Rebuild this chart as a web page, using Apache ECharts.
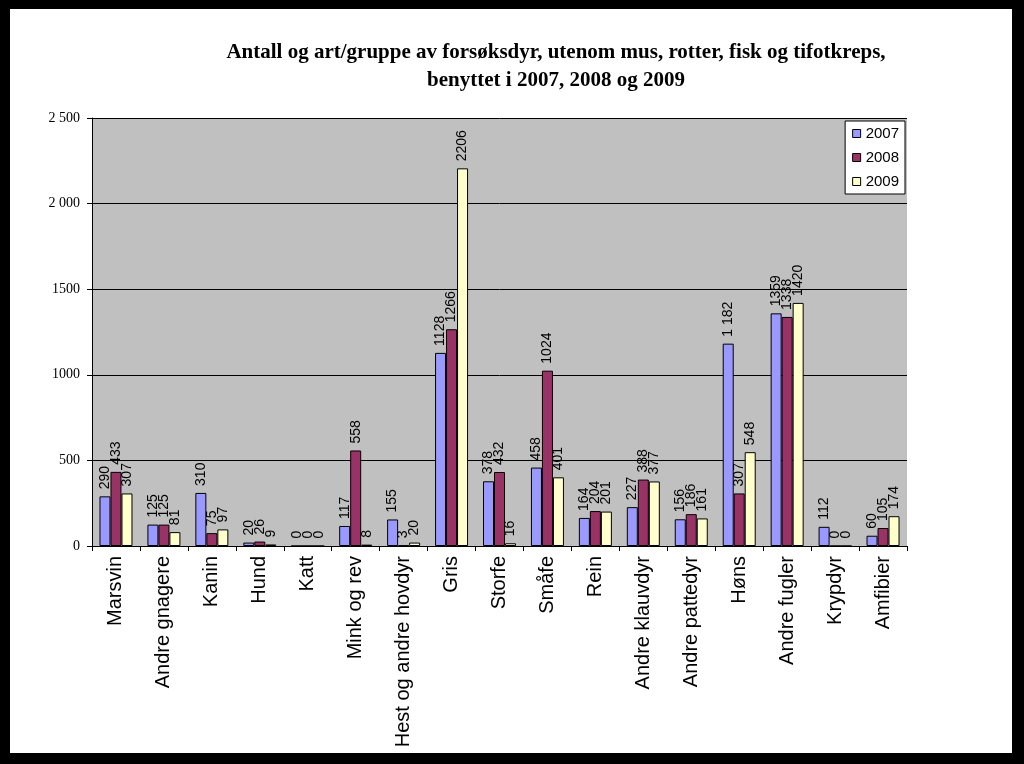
<!DOCTYPE html>
<html>
<head>
<meta charset="utf-8">
<script src="https://cdn.jsdelivr.net/npm/echarts@6/dist/echarts.min.js"></script>
<style>
html,body{margin:0;padding:0;background:#000;}
#frame{position:absolute;left:10px;top:9px;width:1002px;height:744px;background:#fff;}
#chart{position:absolute;left:0;top:0;width:1024px;height:764px;}
</style>
</head>
<body>
<div id="frame"></div>
<div id="chart"></div>
<script>
const categories = ['Marsvin','Andre gnagere','Kanin','Hund','Katt','Mink og rev','Hest og andre hovdyr','Gris','Storfe','Småfe','Rein','Andre klauvdyr','Andre pattedyr','Høns','Andre fugler','Krypdyr','Amfibier'];
const s2007 = [290,125,310,20,0,117,155,1128,378,458,164,227,156,1182,1359,112,60];
const s2008 = [433,125,75,26,0,558,3,1266,432,1024,204,388,186,307,1338,0,105];
const s2009 = [307,81,97,9,0,8,20,2206,16,401,201,377,161,548,1420,0,174];
const seriesNames = ['2007','2008','2009'];
const yTickLabels = {0:'0',500:'500',1000:'1000',1500:'1500',2000:'2 000',2500:'2 500'};
const title = 'Antall og art/gruppe av forsøksdyr, utenom mus, rotter, fisk og tifotkreps,\nbenyttet i 2007, 2008 og 2009';

const colors = ['#9999ff','#993366','#ffffcc'];
const chart = echarts.init(document.getElementById('chart'), null, {renderer:'canvas'});
const mk = (name, data, i) => ({
  name: name, type: 'bar', data: data, barWidth: 11, barGap: '0%',
  itemStyle: {color: colors[i], borderColor: '#000', borderWidth: 1},
  label: {show: true, position: 'top', rotate: 90, align: 'left', verticalAlign: 'middle',
    distance: 7, color: '#000', fontFamily: 'Liberation Sans', fontSize: 14,
    formatter: p => (i===0 && p.dataIndex===13) ? '1 182' : String(p.value)}
});
chart.setOption({
  animation: false,
  title: {text: title, left: 551, textAlign: 'center', top: 34,
    textStyle: {fontFamily: 'Liberation Serif', fontWeight: 'bold', fontSize: 21, lineHeight: 28, color: '#000'}},
  legend: {orient: 'vertical', right: 119, top: 121, backgroundColor: '#fff', borderColor: '#000', borderWidth: 1,
    padding: [5, 6, 5, 7], itemWidth: 8, itemHeight: 8, itemGap: 9, icon: 'rect',
    textStyle: {fontFamily: 'Liberation Sans', fontSize: 15, color: '#000'},
    data: seriesNames.map((n,i)=>({name:n, itemStyle:{color:colors[i], borderColor:'#000', borderWidth:1}}))},
  grid: {left: 92, right: 117, top: 118, bottom: 218, show: true, backgroundColor: '#c0c0c0', borderWidth: 0},
  xAxis: {type: 'category', data: categories,
    axisLine: {lineStyle: {color: '#000'}},
    axisTick: {show: true, length: 5, lineStyle: {color: '#000'}},
    axisLabel: {rotate: 90, interval: 0, margin: 10, color: '#000', fontFamily: 'Liberation Sans', fontSize: 20}},
  yAxis: {type: 'value', min: 0, max: 2500, interval: 500,
    axisLine: {show: true, lineStyle: {color: '#000'}},
    axisTick: {show: true, length: 5, lineStyle: {color: '#000'}},
    splitLine: {lineStyle: {color: '#000', width: 1}},
    axisLabel: {margin: 12, color: '#000', fontFamily: 'Liberation Serif', fontSize: 14,
      formatter: v => yTickLabels[v]}},
  series: [mk('2007', s2007, 0), mk('2008', s2008, 1), mk('2009', s2009, 2)]
});
</script>
</body>
</html>
